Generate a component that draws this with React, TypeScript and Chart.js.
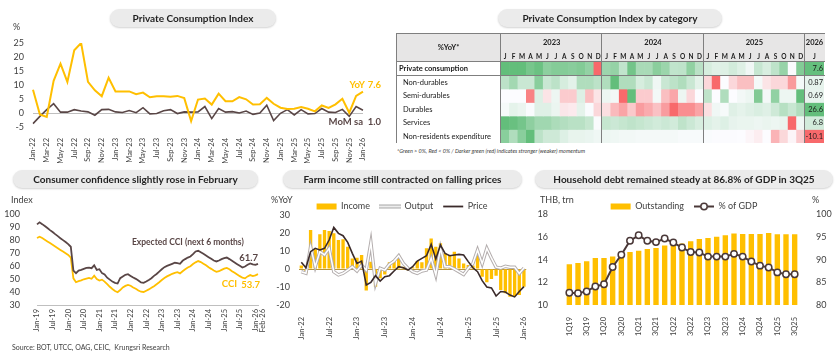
import React, { useEffect, useRef } from 'react';
import { Chart, registerables } from 'chart.js';

Chart.register(...registerables);

const FONT = 'Lato, "Open Sans", "DejaVu Sans", sans-serif';
const GOLD = '#FFBF00';
const BROWN = '#594646';
const DARK = '#3A2A2A';
const TXT = '#404040';

Chart.defaults.font.family = FONT;
Chart.defaults.color = TXT;

// ---------- category helpers ----------
const MONTH_NAMES = ['Jan', 'Feb', 'Mar', 'Apr', 'May', 'Jun', 'Jul', 'Aug', 'Sep', 'Oct', 'Nov', 'Dec'];
function monthLabels(y0: number, m0: number, n: number): string[] {
  const out: string[] = [];
  for (let i = 0; i < n; i++) {
    const k = m0 - 1 + i;
    out.push(`${MONTH_NAMES[k % 12]}-${String((y0 + Math.floor(k / 12)) % 100).padStart(2, '0')}`);
  }
  return out;
}
function quarterLabels(y0: number, q0: number, n: number): string[] {
  const out: string[] = [];
  for (let i = 0; i < n; i++) {
    const k = q0 - 1 + i;
    out.push(`${(k % 4) + 1}Q${String((y0 + Math.floor(k / 4)) % 100).padStart(2, '0')}`);
  }
  return out;
}

// ---------- Private Consumption Index ----------
const pciCategories = monthLabels(2022, 1, 49);
const pciYoY = [
  8.3, -0.5, -1.4, 11.5, 17.6, 11.1, 22.4, 25.0, 11.1, 8.1, 6.0, 12.6,
  7.7, 7.7, 7.7, 6.7, 7.3, 5.6, 6.0, 6.0, 5.8, 6.1, 5.3, -2.9,
  4.8, 5.2, 3.0, 6.9, 4.2, 4.2, 5.7, 4.9, 3.0, 3.1, 5.4, 3.3,
  1.9, 1.4, 1.5, 2.1, 1.5, 0.6, 2.7, 1.8, 3.1, 5.1, 0.1, 6.1,
  7.6,
];
const pciMoM = [
  -3.8, -1.2, 1.2, 3.3, 0.3, 0.3, 1.2, 0.7, 0.4, -0.8, 1.2, 1.3,
  0.4, 0.2, 0.9, 0.1, 1.9, -0.3, -0.2, 0.8, 1.2, -0.2, 0.4, 0.3,
  0.4, 2.3, -2.0, 1.6, 0.3, 0.5, 0.0, 0.7, -0.5, 0.0, 2.8, -2.7,
  -0.1, 1.2, -0.7, 1.2, -0.3, -0.2, 1.6, 0.3, 0.2, 1.3, -1.2, 2.3,
  1.0,
];

// ---------- Heatmap (PCI by category, %YoY) ----------
const hmYears = ['2023', '2024', '2025'];
const hmMonthLetters = ['J', 'F', 'M', 'A', 'M', 'J', 'J', 'A', 'S', 'O', 'N', 'D'];
const hmLastYear = '2026';
const hmLastMonth = 'J';
const hmHeader = '%YoY*';
const hmRowNames = ['Private consumption', 'Non-durables', 'Semi-durables', 'Durables', 'Services', 'Non-residents expenditure'];
const hmPrivate = pciYoY.slice(12);
const hmNonDurables = [
  2.5, 3.5, 2.0, 2.0, 4.5, 2.0, 2.5, 1.5, 1.0, 3.0, 3.0, 2.5,
  3.0, 6.0, 3.0, 3.0, 1.5, 2.0, 0.5, 2.0, 2.5, 3.0, 2.0, 1.0,
  -1.5, -6.0, 0.0, -1.5, -2.5, -2.5, 0.3, -1.0, -1.5, -1.5, -4.0, 0.3,
  0.87,
];
const hmSemiDurables = [
  0.0, 0.0, 0.0, -5.0, 1.0, -1.0, 0.5, -2.0, -2.0, 1.0, -2.5, -1.0,
  0.5, 0.3, -6.0, 5.0, -2.0, -2.0, 0.3, -2.5, -3.5, 0.5, -1.5, 0.0,
  2.0, 0.0, 2.5, 0.0, 0.3, 0.5, 4.0, 0.3, 3.5, 0.5, 0.5, 5.0,
  0.69,
];
const hmDurables = [
  1.0, 4.0, 3.0, 0.5, 5.0, 5.0, 3.0, -3.0, -2.5, 4.0, 0.5, -5.0,
  -4.0, -9.0, -12.0, -7.0, -13.0, -11.0, -8.0, -13.0, -20.0, -15.0, -15.0, -12.0,
  -4.0, 2.0, 1.0, 5.0, 4.0, 5.0, 6.0, 5.0, 8.0, 12.0, 9.0, 13.0,
  26.6,
];
const hmServices = [
  25, 24, 22, 18, 15, 15, 13, 12, 11, 11, 9, 0.5,
  9, 8, 9, 10, 9, 8, 7, 8, 7, 10, 8, 6,
  5, 4, 5, 3.5, 3, 3, 2.5, 3, 2.5, 3, -15, 2,
  6.8,
];
const hmNonResidents = [
  45, 30, 45, 60, 25, 18, 18, 12, 8, 8, 7, 5,
  6, 5, 4, 4, 3, 3, 3, 3, 3, 2, 2, 2,
  1, 0.5, 0.5, 0.5, 0, -0.5, -1, 0, -5, -2.5, -0.5, -3.5,
  -10.1,
];
const hmRowsValues = [hmPrivate, hmNonDurables, hmSemiDurables, hmDurables, hmServices, hmNonResidents];
const hmFootnote = '*Green > 0%, Red < 0% / Darker green (red) indicates stronger (weaker) momentum';

// ---------- Consumer confidence ----------
const cciCategories = monthLabels(2019, 1, 86);
const cciExpected = [
  92.0, 93.6, 92.2, 90.7, 89.2, 87.6, 86.1, 84.5, 83.0, 81.4, 79.9, 78.4,
  76.8, 74.8, 56.5, 54.5, 56.5, 57.0, 57.8, 58.5, 58.8, 58.3, 60.5, 57.0,
  57.5, 54.5, 53.5, 51.0, 49.5, 48.0, 47.0, 46.5, 50.6, 51.9, 53.2, 53.7,
  52.4, 51.1, 50.1, 48.8, 47.3, 47.0, 48.1, 49.3, 50.6, 52.4, 53.9, 55.7,
  57.5, 59.1, 60.1, 60.9, 61.7, 62.5, 62.2, 61.7, 64.0, 65.3, 66.5, 67.3,
  69.1, 71.2, 71.7, 70.6, 69.4, 68.1, 66.8, 65.5, 64.2, 63.5, 64.2, 65.3,
  66.0, 66.5, 65.3, 64.0, 62.7, 61.4, 60.1, 58.8, 59.6, 60.9, 62.0, 61.2,
  60.9, 61.7,
];
const cciIndex = [
  81.5, 82.5, 81.5, 80.2, 78.9, 77.6, 76.3, 75.0, 73.7, 72.4, 71.1, 69.8,
  68.5, 66.5, 50.5, 47.5, 48.3, 49.0, 49.8, 50.3, 50.8, 50.2, 52.5, 50.0,
  48.8, 49.5, 48.0, 46.0, 44.0, 42.3, 40.8, 39.8, 41.5, 43.5, 44.7, 45.5,
  44.8, 43.5, 42.5, 41.2, 40.2, 40.0, 41.0, 42.0, 43.2, 44.5, 46.0, 47.5,
  49.2, 50.8, 52.0, 53.0, 54.0, 54.7, 55.2, 54.3, 56.0, 57.5, 58.8, 59.8,
  61.5, 62.8, 63.8, 63.0, 61.8, 60.5, 59.0, 57.8, 56.5, 55.5, 56.0, 57.0,
  58.0, 58.5, 57.5, 56.0, 54.8, 53.5, 52.2, 51.0, 50.5, 52.0, 53.0, 52.2,
  52.8, 53.7,
];

// ---------- Farm income ----------
const farmCategories = monthLabels(2022, 1, 49);
const farmIncome = [
  1.9, -2.4, 21.7, 11.0, 19.3, 21.7, 21.1, 19.8, 16.1, 16.5, 12.4, 5.9,
  6.3, 7.8, -12.0, 4.0, -9.8, -5.2, -3.0, 3.7, 5.0, 7.4, 1.3, -0.7,
  1.0, 4.4, 3.7, 11.5, 17.0, 12.4, 14.3, 8.7, 7.8, 9.6, 5.9, 3.1,
  2.2, 1.9, 9.0, -4.3, -7.4, -5.6, -3.7, -11.7, -13.5, -15.4, -15.0, -14.4,
  -9.8,
];
const farmOutput = [
  -1.5, -2.4, 12.4, 1.3, 9.6, 7.8, 11.5, -1.5, -3.3, -2.4, -0.6, 1.3,
  -1.1, 2.2, -0.6, 14.8, -8.0, 0.4, -0.6, 2.6, 4.4, 7.4, 3.1, 0.4,
  -1.5, -2.4, -1.1, -0.6, 5.9, -3.3, 11.5, 1.3, 1.3, 0.0, -1.5, -3.0,
  0.4, 3.0, 10.5, 3.0, 11.5, 6.0, 1.0, 0.5, 1.5, 1.0, 1.0, -2.5,
  0.5,
];
const farmPrice = [
  3.7, 0.7, 9.6, 11.5, 10.6, 11.5, 16.1, 23.1, 19.8, 18.5, 14.8, 8.7,
  3.1, 4.4, -8.9, -7.4, -3.7, -6.7, -4.3, -3.7, -1.1, 1.3, 0.7, -0.6,
  1.3, 4.4, 5.9, 7.4, 13.7, 5.6, 13.3, 8.7, 7.4, 7.8, 8.1, 7.8,
  4.1, 0.7, -1.5, -6.5, -10.0, -10.5, -15.0, -12.5, -12.8, -14.5, -15.5, -12.5,
  -9.8,
];

// ---------- Household debt ----------
const debtCategories = quarterLabels(2019, 1, 27);
const debtOutstanding = [
  13.6, 13.72, 13.87, 14.16, 14.16, 14.28, 14.55, 14.69, 14.8, 14.96, 15.04, 15.25,
  15.37, 15.43, 15.63, 15.84, 15.92, 16.04, 16.16, 16.33, 16.28, 16.28, 16.28, 16.36,
  16.25, 16.25, 16.25,
];
const debtGDP = [
  82.7, 82.6, 83.0, 84.1, 84.6, 88.4, 91.1, 94.2, 95.4, 94.2, 93.9, 94.7,
  93.8, 92.7, 91.7, 91.6, 90.7, 90.7, 90.7, 91.3, 90.7, 89.6, 88.7, 88.3,
  87.2, 86.8, 86.8,
];

// ---------- styling helpers ----------
function heatColor(v: number, min: number, max: number): string {
  const W = [252, 252, 255];
  const G = [99, 190, 123];
  const R = [248, 105, 107];
  let t = 0;
  let C = G;
  if (v >= 0) { t = max > 0 ? v / max : 0; C = G; } else { t = min < 0 ? v / min : 0; C = R; }
  t = Math.max(0, Math.min(1, t));
  const c = W.map((w, k) => Math.round(w + (C[k] - w) * t));
  return `rgb(${c[0]},${c[1]},${c[2]})`;
}

function makeIcon(w: number, h: number, draw: (g: CanvasRenderingContext2D) => void) {
  const c = document.createElement('canvas');
  c.width = w; c.height = h;
  const g = c.getContext('2d') as CanvasRenderingContext2D;
  draw(g);
  return c;
}

const tickFont = { family: FONT, size: 9 };
const xFont = { family: FONT, size: 7.5 };

// ---------- chart configs ----------
function pciConfig(): any {
  const anno = {
    id: 'pciAnno',
    afterDatasetsDraw(chart: any) {
      const { ctx, scales: { x, y } } = chart;
      const last = pciYoY.length - 1;
      const lx = x.getPixelForValue(last);
      const yY = y.getPixelForValue(pciYoY[last]);
      const yM = y.getPixelForValue(pciMoM[last]);
      ctx.save();
      ctx.font = `bold 9.5px ${FONT}`;
      ctx.textBaseline = 'middle';
      ctx.textAlign = 'right';
      ctx.fillStyle = GOLD;
      ctx.fillText('YoY', lx + 2, yY - 7);
      ctx.fillText(pciYoY[last].toFixed(1), lx + 18, yY - 7);
      ctx.fillStyle = BROWN;
      ctx.fillText('MoM sa', lx, yM + 12);
      ctx.fillText(pciMoM[last].toFixed(1), lx + 18, yM + 12);
      ctx.restore();
    },
  };
  return {
    type: 'line',
    data: {
      labels: pciCategories,
      datasets: [
        { label: 'YoY', data: pciYoY, borderColor: GOLD, borderWidth: 2, pointRadius: 0, tension: 0 },
        { label: 'MoM sa', data: pciMoM, borderColor: BROWN, borderWidth: 1.6, pointRadius: 0, tension: 0 },
      ],
    },
    options: {
      responsive: false, animation: false, events: [],
      layout: { padding: { top: 15, right: 27, left: 0, bottom: 0 } },
      plugins: { legend: { display: false }, tooltip: { enabled: false } },
      scales: {
        x: {
          grid: { display: false }, border: { display: false },
          ticks: { autoSkip: false, maxRotation: 90, minRotation: 90, font: xFont, color: TXT, padding: 3,
            callback: (_v: any, i: number) => (i % 2 === 0 ? pciCategories[i] : '') },
          afterFit: (s: any) => { s.height = 43; },
        },
        y: {
          min: -5, max: 25,
          ticks: { stepSize: 5, autoSkip: false, font: tickFont, color: TXT, padding: 9 },
          grid: { drawTicks: false, color: (c: any) => (c.tick && c.tick.value === 0 ? '#BFBFBF' : 'rgba(0,0,0,0)') },
          border: { display: false },
          afterFit: (s: any) => { s.width = 33; },
        },
      },
    },
    plugins: [anno],
  };
}

const hmCats = hmYears.flatMap((yr) => hmMonthLetters.map((m) => `${m}-${yr}`));

function heatmapConfig(): any {
  const datasets = hmRowsValues.map((vals, r) => {
    const min = Math.min(...vals);
    const max = Math.max(...vals);
    const cells = vals.slice(0, 36);
    return {
      label: hmRowNames[r],
      data: cells.map(() => 1),
      backgroundColor: cells.map((v) => heatColor(v, min, max)),
      borderWidth: 0, barPercentage: 1, categoryPercentage: 1, stack: 'grid',
    };
  });
  const decor = {
    id: 'hmDecor',
    beforeDatasetsDraw(chart: any) {
      const { ctx, chartArea: a, width } = chart;
      ctx.save();
      ctx.fillStyle = '#E7E6E6';
      ctx.fillRect(1, 0, width - 1, a.top);
      ctx.restore();
    },
    afterDatasetsDraw(chart: any) {
      const { ctx, chartArea: a, scales: { x, y }, width } = chart;
      const colW = (a.right - a.left) / hmCats.length;
      ctx.save();
      ctx.strokeStyle = '#7F7F7F';
      ctx.lineWidth = 1;
      const h = (yy: number, x0: number, x1: number) => { ctx.beginPath(); ctx.moveTo(x0, yy); ctx.lineTo(x1, yy); ctx.stroke(); };
      const v = (xx: number, y0: number, y1: number) => { ctx.beginPath(); ctx.moveTo(xx, y0); ctx.lineTo(xx, y1); ctx.stroke(); };
      h(0.5, 1, width);
      h(Math.round(a.top) - 0.5, 1, width);
      h(Math.round(y.getPixelForValue(1)) - 0.5, 1, width);
      v(1.5, 0, a.bottom);
      v(Math.round(a.left) - 0.5, 0, a.bottom);
      for (let k = 1; k <= hmYears.length; k++) {
        v(Math.round(a.left + k * 12 * colW) - 0.5, 0, a.bottom);
      }
      ctx.fillStyle = '#1A1A1A';
      ctx.textBaseline = 'middle';
      ctx.textAlign = 'center';
      ctx.font = `bold 7.5px ${FONT}`;
      ctx.fillText(hmHeader, (1 + a.left) / 2, a.top / 2);
      hmYears.forEach((yr, k) => ctx.fillText(yr, a.left + (k * 12 + 6) * colW, 9.5));
      ctx.font = `bold 6.5px ${FONT}`;
      hmCats.forEach((_c, i) => ctx.fillText(hmMonthLetters[i % 12], x.getPixelForValue(i), 23.5));
      ctx.textAlign = 'left';
      hmRowNames.forEach((name, r) => {
        ctx.font = r === 0 ? `bold 7.5px ${FONT}` : `7.5px ${FONT}`;
        ctx.fillText(name, r === 0 ? 4 : 8, y.getPixelForValue(r + 0.5));
      });
      ctx.restore();
    },
  };
  return {
    type: 'bar',
    data: { labels: hmCats, datasets },
    options: {
      responsive: false, animation: false, events: [],
      layout: { padding: { left: 106, top: 29, right: 0, bottom: 2 } },
      plugins: { legend: { display: false }, tooltip: { enabled: false } },
      scales: {
        x: { display: false, stacked: true },
        y: { display: false, stacked: true, min: 0, max: hmRowNames.length, reverse: true },
      },
    },
    plugins: [decor],
  };
}

function heatmapLastConfig(): any {
  const datasets = hmRowsValues.map((vals, r) => {
    const min = Math.min(...vals);
    const max = Math.max(...vals);
    const v = vals[36];
    return {
      label: hmRowNames[r], data: [1], backgroundColor: [heatColor(v, min, max)],
      borderWidth: 0, barPercentage: 1, categoryPercentage: 1, stack: 'grid',
    };
  });
  const decor = {
    id: 'hmLastDecor',
    beforeDatasetsDraw(chart: any) {
      const { ctx, chartArea: a, width } = chart;
      ctx.save();
      ctx.fillStyle = '#E7E6E6';
      ctx.fillRect(0, 0, width, a.top);
      ctx.restore();
    },
    afterDatasetsDraw(chart: any) {
      const { ctx, chartArea: a, scales: { y }, width } = chart;
      ctx.save();
      ctx.strokeStyle = '#7F7F7F';
      ctx.lineWidth = 1;
      const h = (yy: number) => { ctx.beginPath(); ctx.moveTo(0, yy); ctx.lineTo(width, yy); ctx.stroke(); };
      h(0.5);
      h(Math.round(a.top) - 0.5);
      h(Math.round(y.getPixelForValue(1)) - 0.5);
      ctx.fillStyle = '#1A1A1A';
      ctx.textBaseline = 'middle';
      ctx.textAlign = 'center';
      ctx.font = `bold 7.5px ${FONT}`;
      ctx.fillText(hmLastYear, (a.left + a.right) / 2, 9.5);
      ctx.font = `bold 6.5px ${FONT}`;
      ctx.fillText(hmLastMonth, (a.left + a.right) / 2, 23.5);
      ctx.textAlign = 'right';
      ctx.font = `7.5px ${FONT}`;
      hmRowsValues.forEach((vals, r) => ctx.fillText(String(vals[36]), a.right - 1, y.getPixelForValue(r + 0.5)));
      ctx.restore();
    },
  };
  return {
    type: 'bar',
    data: { labels: [`${hmLastMonth}-${hmLastYear}`], datasets },
    options: {
      responsive: false, animation: false, events: [],
      layout: { padding: { left: 0, top: 29, right: 1, bottom: 2 } },
      plugins: { legend: { display: false }, tooltip: { enabled: false } },
      scales: {
        x: { display: false, stacked: true },
        y: { display: false, stacked: true, min: 0, max: hmRowNames.length, reverse: true },
      },
    },
    plugins: [decor],
  };
}

function cciConfig(): any {
  const labelsPlugin = {
    id: 'cciLabels',
    afterDraw(chart: any) {
      const { ctx, scales: { x, y } } = chart;
      ctx.save();
      ctx.font = `7.5px ${FONT}`;
      ctx.fillStyle = TXT;
      ctx.textAlign = 'right';
      ctx.textBaseline = 'middle';
      let prev = -Infinity;
      cciCategories.forEach((lab, i) => {
        const isLast = i === cciCategories.length - 1;
        if (!(lab.startsWith('Jan') || lab.startsWith('Jul') || isLast)) return;
        let px = x.getPixelForValue(i);
        if (px < prev + 7) px = prev + 7;
        ctx.save();
        ctx.translate(px, x.top + 4);
        ctx.rotate(-Math.PI / 2);
        ctx.fillText(lab, 0, 0);
        ctx.restore();
        prev = px;
      });
      const last = cciIndex.length - 1;
      const lx = x.getPixelForValue(last);
      const yE = y.getPixelForValue(cciExpected[last]);
      const yC = y.getPixelForValue(cciIndex[last]);
      ctx.font = `bold 8.5px ${FONT}`;
      ctx.fillStyle = BROWN;
      ctx.textAlign = 'center';
      ctx.fillText('Expected CCI (next 6 months)', x.getPixelForValue(58), y.getPixelForValue(78.5));
      ctx.font = `bold 9.5px ${FONT}`;
      ctx.textAlign = 'right';
      ctx.fillText(cciExpected[last].toFixed(1), lx, yE - 6);
      ctx.fillStyle = GOLD;
      ctx.fillText(cciIndex[last].toFixed(1), lx + 2, yC + 11);
      ctx.fillText('CCI', lx - 21, yC + 10);
      ctx.restore();
    },
  };
  return {
    type: 'line',
    data: {
      labels: cciCategories,
      datasets: [
        { label: 'Expected CCI (next 6 months)', data: cciExpected, borderColor: BROWN, borderWidth: 1.8, pointRadius: 0, tension: 0 },
        { label: 'CCI', data: cciIndex, borderColor: GOLD, borderWidth: 1.8, pointRadius: 0, tension: 0 },
      ],
    },
    options: {
      responsive: false, animation: false, events: [],
      layout: { padding: { top: 19, right: 17, left: 0, bottom: 0 } },
      plugins: { legend: { display: false }, tooltip: { enabled: false } },
      scales: {
        x: {
          grid: { display: false }, border: { display: true, color: '#BFBFBF' },
          ticks: { display: false },
          afterFit: (s: any) => { s.height = 42; },
        },
        y: {
          min: 30, max: 100,
          ticks: { stepSize: 10, autoSkip: false, font: tickFont, color: TXT, padding: 9 },
          grid: { display: false }, border: { display: false },
          afterFit: (s: any) => { s.width = 37; },
        },
      },
    },
    plugins: [labelsPlugin],
  };
}

function farmConfig(): any {
  const outputIcon = makeIcon(22, 6, (g) => {
    g.strokeStyle = '#A6A6A6'; g.lineWidth = 4;
    g.beginPath(); g.moveTo(0, 3); g.lineTo(22, 3); g.stroke();
    g.strokeStyle = '#FFFFFF'; g.lineWidth = 1.6;
    g.beginPath(); g.moveTo(0, 3); g.lineTo(22, 3); g.stroke();
  });
  return {
    type: 'bar',
    data: {
      labels: farmCategories,
      datasets: [
        { type: 'bar', label: 'Income', data: farmIncome, backgroundColor: GOLD, borderWidth: 0, barPercentage: 0.72, categoryPercentage: 1, order: 4 },
        { type: 'line', label: 'Output', data: farmOutput, borderColor: '#B3ADAD', borderWidth: 3.4, pointRadius: 0, tension: 0, order: 3 },
        { type: 'line', label: 'Output inner', data: farmOutput, borderColor: '#FFFFFF', borderWidth: 1.5, pointRadius: 0, tension: 0, order: 2 },
        { type: 'line', label: 'Price', data: farmPrice, borderColor: DARK, borderWidth: 1.6, pointRadius: 0, tension: 0, order: 1 },
      ],
    },
    options: {
      responsive: false, animation: false, events: [],
      layout: { padding: { top: 0, right: 8, left: 0, bottom: 0 } },
      plugins: {
        tooltip: { enabled: false },
        legend: {
          display: true, position: 'top', maxHeight: 23,
          labels: {
            usePointStyle: true, pointStyleWidth: 20, boxHeight: 6, padding: 10, color: TXT,
            font: { family: FONT, size: 9 },
            generateLabels: (chart: any) =>
              (Chart.defaults.plugins.legend.labels.generateLabels as any)(chart)
                .filter((it: any) => it.datasetIndex !== 2)
                .map((it: any) => {
                  if (it.datasetIndex === 0) return { ...it, pointStyle: 'rect', lineWidth: 0 };
                  if (it.datasetIndex === 1) return { ...it, pointStyle: outputIcon };
                  return { ...it, pointStyle: 'line', lineWidth: 1.8, strokeStyle: DARK };
                }),
            sort: (a: any, b: any) => a.datasetIndex - b.datasetIndex,
          },
        },
      },
      scales: {
        x: {
          grid: { display: false }, border: { display: false },
          ticks: { autoSkip: false, maxRotation: 90, minRotation: 90, font: xFont, color: TXT, padding: 4,
            callback: (_v: any, i: number) => (i % 6 === 0 ? farmCategories[i] : '') },
          afterFit: (s: any) => { s.height = 47; },
        },
        y: {
          min: -20, max: 30,
          ticks: { stepSize: 10, autoSkip: false, font: tickFont, color: TXT, padding: 9 },
          grid: { drawTicks: false, color: (c: any) => (c.tick && c.tick.value === 0 ? '#B8963A' : 'rgba(0,0,0,0)') },
          border: { display: false },
          afterFit: (s: any) => { s.width = 24; },
        },
      },
    },
  };
}

function debtConfig(): any {
  const gdpIcon = makeIcon(20, 9, (g) => {
    g.strokeStyle = '#4A3838'; g.lineWidth = 2;
    g.beginPath(); g.moveTo(0, 4.5); g.lineTo(20, 4.5); g.stroke();
    g.fillStyle = '#FFFFFF'; g.lineWidth = 1.5;
    g.beginPath(); g.arc(10, 4.5, 3.2, 0, Math.PI * 2); g.fill(); g.stroke();
  });
  return {
    type: 'bar',
    data: {
      labels: debtCategories,
      datasets: [
        { type: 'bar', label: 'Outstanding', data: debtOutstanding, backgroundColor: GOLD, borderWidth: 0, barPercentage: 0.62, categoryPercentage: 1, yAxisID: 'y', order: 2 },
        { type: 'line', label: '% of GDP', data: debtGDP, borderColor: '#4A3838', borderWidth: 2, pointRadius: 3.2,
          pointBackgroundColor: '#FFFFFF', pointBorderColor: '#4A3838', pointBorderWidth: 1.5, tension: 0, yAxisID: 'y1', order: 1 },
      ],
    },
    options: {
      responsive: false, animation: false, events: [],
      layout: { padding: { top: 0, right: 0, left: 0, bottom: 0 } },
      plugins: {
        tooltip: { enabled: false },
        legend: {
          display: true, position: 'top', maxHeight: 22.5,
          labels: {
            usePointStyle: true, pointStyleWidth: 20, boxHeight: 6, padding: 10, color: TXT,
            font: { family: FONT, size: 9 },
            generateLabels: (chart: any) =>
              (Chart.defaults.plugins.legend.labels.generateLabels as any)(chart).map((it: any) =>
                it.datasetIndex === 0 ? { ...it, pointStyle: 'rect', lineWidth: 0 } : { ...it, pointStyle: gdpIcon }),
            sort: (a: any, b: any) => a.datasetIndex - b.datasetIndex,
          },
        },
      },
      scales: {
        x: {
          grid: { display: false }, border: { display: false },
          ticks: { autoSkip: false, maxRotation: 90, minRotation: 90, font: xFont, color: TXT, padding: 4,
            callback: (_v: any, i: number) => (i % 2 === 0 ? debtCategories[i] : '') },
          afterFit: (s: any) => { s.height = 50; },
        },
        y: {
          position: 'left', min: 10, max: 18,
          ticks: { stepSize: 2, autoSkip: false, font: tickFont, color: TXT, padding: 9 },
          grid: { display: false }, border: { display: false },
          afterFit: (s: any) => { s.width = 30; },
        },
        y1: {
          position: 'right', min: 80, max: 100,
          ticks: { stepSize: 5, autoSkip: false, font: tickFont, color: TXT, padding: 9 },
          grid: { display: false }, border: { display: false },
          afterFit: (s: any) => { s.width = 34; },
        },
      },
    },
  };
}

// ---------- components ----------
function ChartCanvas({ x, y, w, h, config }: any) {
  const ref = useRef<HTMLCanvasElement | null>(null);
  useEffect(() => {
    const chart = new Chart(ref.current as HTMLCanvasElement, config());
    return () => chart.destroy();
  }, []);
  return <canvas ref={ref} width={w} height={h} style={{ position: 'absolute', left: x, top: y, width: w, height: h }} />;
}

function Pill({ left, top, width, text }: any) {
  return (
    <div style={{
      position: 'absolute', left, top, width, height: 18, borderRadius: 9, background: '#EBEBEB',
      boxShadow: '0 1px 2px rgba(0,0,0,0.18)', display: 'flex', alignItems: 'center', justifyContent: 'center',
      fontWeight: 700, fontSize: 10, color: '#1F1F1F', whiteSpace: 'nowrap', fontFamily: FONT,
    }}>{text}</div>
  );
}

function Label({ left, top, size = 9, children, style }: any) {
  return (
    <div style={{ position: 'absolute', left, top, fontSize: size, lineHeight: `${size + 2}px`, color: TXT, whiteSpace: 'nowrap', fontFamily: FONT, ...style }}>
      {children}
    </div>
  );
}

export default function App() {
  return (
    <div style={{ position: 'absolute', left: 0, top: 0, width: 840, height: 362, background: '#FFFFFF', overflow: 'hidden', fontFamily: FONT }}>
      <ChartCanvas x={0} y={28} w={390} h={142} config={pciConfig} />
      <ChartCanvas x={395} y={33} w={410} h={112} config={heatmapConfig} />
      <ChartCanvas x={805} y={33} w={20} h={112} config={heatmapLastConfig} />
      <ChartCanvas x={0} y={195} w={275} h={152} config={cciConfig} />
      <ChartCanvas x={275} y={192} w={262} h={160} config={farmConfig} />
      <ChartCanvas x={535} y={192} w={298} h={163} config={debtConfig} />

      <Pill left={110} top={9} width={166} text="Private Consumption Index" />
      <Pill left={498} top={9} width={224} text="Private Consumption Index by category" />
      <Pill left={13} top={170} width={245} text="Consumer confidence slightly rose in February" />
      <Pill left={283} top={170} width={239} text="Farm income still contracted on falling prices" />
      <Pill left={535} top={170} width={298} text="Household debt remained steady at 86.8% of GDP in 3Q25" />

      <Label left={13} top={21}>%</Label>
      <Label left={11} top={194}>Index</Label>
      <Label left={271} top={194}>%YoY</Label>
      <Label left={540} top={194}>THB, trn</Label>
      <Label left={812} top={194}>%</Label>
      <Label left={397} top={148} size={5.5} style={{ fontStyle: 'italic', color: '#404040' }}>{hmFootnote}</Label>
      <Label left={12} top={343} size={7}>Source: BOT, UTCC, OAG, CEIC,&nbsp; Krungsri Research</Label>
    </div>
  );
}
